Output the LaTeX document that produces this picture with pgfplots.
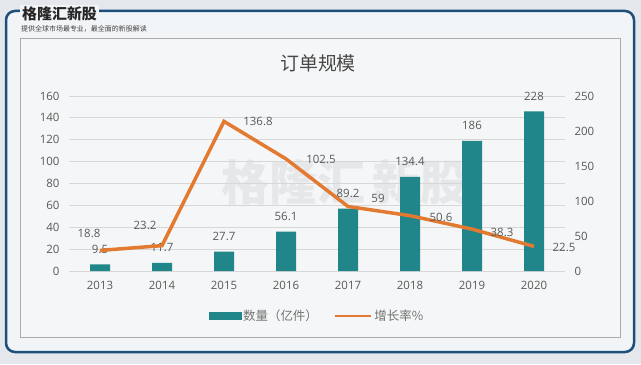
\documentclass[border=0pt]{standalone}
\usepackage{pgfplots}
\pgfplotsset{compat=1.18}
\usepackage{pgfplotstable}
\usepackage{fontspec}
\setmainfont{Open Sans}
\newfontfamily\cjk{Noto Sans CJK SC}
\definecolor{barc}{RGB}{33,134,137}
\definecolor{linec}{RGB}{226,122,50}
\definecolor{txt}{RGB}{89,89,89}
\definecolor{gridc}{RGB}{215,215,215}
\definecolor{framec}{RGB}{30,78,124}
\definecolor{bgout}{RGB}{228,232,236}
\definecolor{bgin}{RGB}{242,245,248}
\definecolor{panel}{RGB}{245,246,247}

\pgfplotstableread{
x y lab
0 9.5 9.5
1 11.7 11.7
2 27.7 27.7
3 56.1 56.1
4 89.2 89.2
5 134.4 134.4
6 186 186
7 228 228
}\bars

\pgfplotstableread{
x y lab dx dy
0 18.8 18.8 -11 17
1 23.2 23.2 -17 20
2 136.8 136.8 34 0
3 102.5 102.5 35 -1
4 59 59 30 8
5 50.6 50.6 31 -2
6 38.3 38.3 30 -3
7 22.5 22.5 30 -1
}\growth

\pgfplotsset{common/.style={scale only axis, width=496bp, height=175bp,
  xmin=-0.5, xmax=7.5, at={(69bp,93bp)}, anchor=south west,
  ticklabel style={font=\fontsize{11.5}{13}\selectfont, text=txt},
  /pgf/number format/assume math mode=true}}

\begin{document}
\begin{tikzpicture}[x=1bp,y=1bp]
\path[use as bounding box] (0,0) rectangle (641,364);
\fill[bgout] (0,0) rectangle (641,364);
\draw[framec, line width=2.5bp, fill=bgin, rounded corners=9bp] (6,12) rectangle (634,353);
\node[fill=bgin, inner sep=2bp, anchor=west, font=\cjk\bfseries\fontsize{15}{17}\selectfont, text=black!85] at (20,350) {格隆汇新股};
\node[anchor=west, inner sep=0, font=\cjk\fontsize{7}{8}\selectfont, text=black!75] at (21,335) {提供全球市场最专业，最全面的新股解读};
\draw[gridc!80!black, fill=panel, line width=0.6bp] (20,27) rectangle (620,326);
\node[font=\cjk\fontsize{19}{22}\selectfont, text=black!72] at (318,301) {订单规模};
\node[font=\cjk\bfseries\fontsize{48}{50}\selectfont, text=gray, opacity=0.12] at (345,182) {格隆汇\,新股};

\begin{axis}[common, ymin=0, ymax=160, ytick={0,20,...,160},
  ymajorgrids, grid style={gridc, line width=0.8bp},
  xtick={0,...,7}, xticklabels={2013,2014,2015,2016,2017,2018,2019,2020},
  axis line style={draw=none}, tick style={draw=none}, major tick length=0pt,
  yticklabel style={xshift=-6bp}, xticklabel style={yshift=-7bp}]
\end{axis}

\begin{axis}[common, ymin=0, ymax=250, ytick={0,50,...,250},
  axis y line*=right, axis x line=none, y axis line style={draw=none},
  tick style={draw=none}, major tick length=0pt,
  yticklabel style={xshift=6bp},
  ybar, bar width=20bp,
  nodes near coords, point meta=explicit symbolic,
  nodes near coords style={anchor=center, yshift=15bp, font=\fontsize{11.5}{13}\selectfont, text=txt}]
\addplot[fill=barc, draw=none] table[x=x, y=y, meta=lab] {\bars};
\end{axis}

\begin{axis}[common, ymin=0, ymax=160, hide axis,
  legend style={at={(0.5,-0.257)}, anchor=center, draw=none, fill=none,
    legend columns=2, font=\cjk\fontsize{12.5}{14}\selectfont, text=txt!85,
    /tikz/every even column/.append style={column sep=14bp}},
  legend cell align=left]
\addlegendimage{legend image code/.code={\fill[barc] (0bp,-3.5bp) rectangle (32bp,3.5bp);}}
\addlegendentry{数量（亿件）}
\addplot[linec, line width=3.5bp, line join=miter,
  legend image code/.code={\draw[linec, line width=2.5bp] (0bp,0bp) -- (36bp,0bp);},
  nodes near coords, point meta=explicit symbolic,
  visualization depends on={\thisrow{dx} \as \dx},
  visualization depends on={\thisrow{dy} \as \dy},
  nodes near coords style={anchor=center, xshift=\dx bp, yshift=\dy bp, font=\fontsize{11.5}{13}\selectfont, text=txt}]
  table[x=x, y=y, meta=lab] {\growth};
\addlegendentry{增长率\%}
\end{axis}
\end{tikzpicture}
\end{document}
